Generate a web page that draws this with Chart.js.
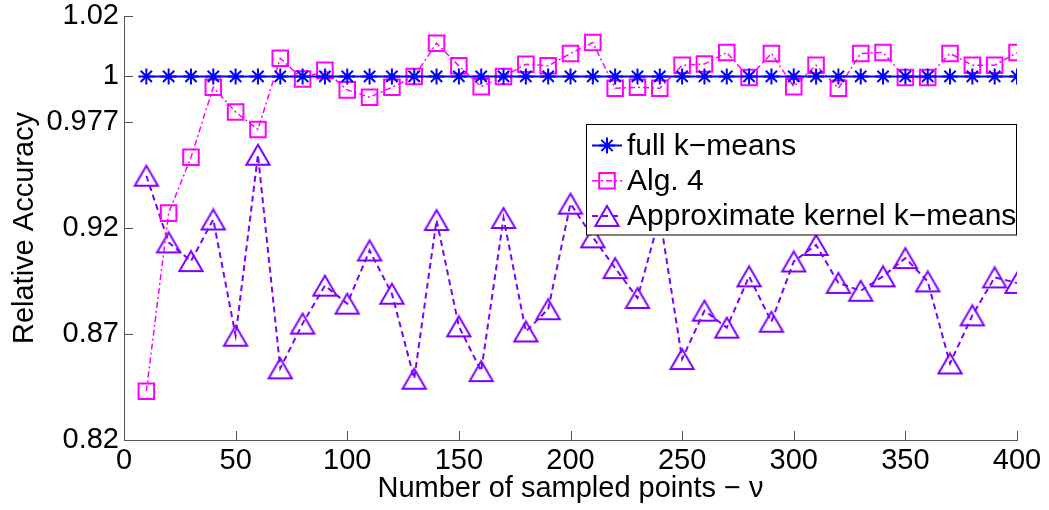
<!DOCTYPE html>
<html>
<head>
<meta charset="utf-8">
<script src="https://cdn.jsdelivr.net/npm/chart.js@4.4.1/dist/chart.umd.min.js"></script>
<style>
  html, body { margin: 0; padding: 0; background: #fff; }
  #wrap { width: 1049px; height: 510px; }
</style>
</head>
<body>
<div id="wrap"><canvas id="chart"></canvas></div>
<script>
// sampled points (nu)
const NU = [10, 20, 30, 40, 50, 60, 70, 80, 90, 100, 110, 120, 130, 140, 150, 160, 170, 180, 190, 200,
            210, 220, 230, 240, 250, 260, 270, 280, 290, 300, 310, 320, 330, 340, 350, 360, 370, 380, 390, 400];

const fullKMeans = NU.map(() => 1);

const alg4 = [0.843, 0.928, 0.958, 0.9945, 0.982, 0.973, 1.006, 0.9987, 1.002, 0.9932,
              0.9895, 0.9945, 1.0, 1.011, 1.0035, 0.9948, 1.0, 1.004, 1.0035, 1.0076,
              1.0112, 0.994, 0.9945, 0.994, 1.0037, 1.0041, 1.0079, 0.9995, 1.0076, 0.9948,
              1.0037, 0.994, 1.0076, 1.0079, 0.9995, 0.9995, 1.0076, 1.0037, 1.0037, 1.0079];

const approxKernel = [0.9481, 0.9132, 0.9044, 0.9246, 0.8692, 0.9594, 0.8538, 0.8749, 0.8928, 0.8843,
                      0.9094, 0.889, 0.8489, 0.9243, 0.8736, 0.8525, 0.9254, 0.8712, 0.8817, 0.9331,
                      0.9156, 0.9011, 0.887, 0.9261, 0.8582, 0.881, 0.873, 0.8972, 0.8758, 0.9042,
                      0.912, 0.8941, 0.8904, 0.8972, 0.9058, 0.8948, 0.8561, 0.8788, 0.8967, 0.8941];

const SERIES_LABELS = ['full k\u2212means', 'Alg. 4', 'Approximate kernel k\u2212means'];
const X_TICKS = [0, 50, 100, 150, 200, 250, 300, 350, 400];
const Y_TICKS = [0.82, 0.87, 0.92, 0.977, 1, 1.02];

// the accuracy axis is not linear: each tick value sits at its own fraction of the height
const Y_KNOT_FRAC = [0, 0.25, 0.5, 0.75, 0.8575, 1];

const FONT = "'Liberation Sans', Arial, Helvetica, sans-serif";
const AXIS_GRAY = '#555555';

class KnotScale extends Chart.LinearScale {
  _frac(value) {
    const v = Y_TICKS, f = Y_KNOT_FRAC;
    let i = 0;
    while (i < v.length - 2 && value > v[i + 1]) i++;
    return f[i] + (value - v[i]) / (v[i + 1] - v[i]) * (f[i + 1] - f[i]);
  }
  getPixelForValue(value) {
    if (value === null || value === undefined || isNaN(value)) return NaN;
    return this.getPixelForDecimal(this._frac(value));
  }
  getValueForPixel(pixel) {
    const d = this.getDecimalForPixel(pixel);
    const v = Y_TICKS, f = Y_KNOT_FRAC;
    let i = 0;
    while (i < f.length - 2 && d > f[i + 1]) i++;
    return v[i] + (d - f[i]) / (f[i + 1] - f[i]) * (v[i + 1] - v[i]);
  }
}
KnotScale.id = 'knot';
KnotScale.defaults = Chart.LinearScale.defaults;
Chart.register(KnotScale);

// hollow triangle centred on its bounding box
function triangleMarker(color) {
  const c = document.createElement('canvas');
  c.width = 28; c.height = 24;
  const g = c.getContext('2d');
  g.strokeStyle = color;
  g.lineWidth = 2;
  g.lineJoin = 'miter';
  g.beginPath();
  g.moveTo(14, 2);
  g.lineTo(25.6, 22);
  g.lineTo(2.4, 22);
  g.closePath();
  g.stroke();
  return c;
}

const toPoints = ys => NU.map((x, i) => ({ x, y: ys[i] }));

// tick marks pointing into the plot, like the MATLAB axes
const innerTicks = {
  id: 'innerTicks',
  afterDatasetsDraw(chart) {
    const { ctx, chartArea, scales } = chart;
    ctx.save();
    ctx.strokeStyle = AXIS_GRAY;
    ctx.lineWidth = 1;
    ctx.beginPath();
    scales.x.ticks.forEach(t => {
      const px = Math.round(scales.x.getPixelForValue(t.value)) + 0.5;
      ctx.moveTo(px, chartArea.bottom);
      ctx.lineTo(px, chartArea.bottom - 9);
    });
    scales.y.ticks.forEach(t => {
      const py = Math.round(scales.y.getPixelForValue(t.value)) + 0.5;
      ctx.moveTo(chartArea.left, py);
      ctx.lineTo(chartArea.left + 9, py);
    });
    ctx.stroke();
    ctx.restore();
  }
};

// boxed legend inside the top-right of the axes, drawn over the lines
const boxedLegend = {
  id: 'boxedLegend',
  afterDatasetsDraw(chart) {
    const { ctx, chartArea } = chart;
    const right = chartArea.right - 1;
    const left = right - 430;
    const top = 124.5;
    const rowH = 35.2;
    ctx.save();
    ctx.fillStyle = '#fff';
    ctx.fillRect(left, top, right - left, 110.5);
    ctx.strokeStyle = '#000';
    ctx.lineWidth = 1;
    ctx.strokeRect(Math.round(left) + 0.5, top, Math.round(right - left), 110.5);

    chart.data.datasets.forEach((ds, i) => {
      const y = top + 21 + i * rowH;
      ctx.save();
      ctx.strokeStyle = ds.borderColor;
      ctx.lineWidth = ds.borderWidth;
      ctx.setLineDash(ds.borderDash || []);
      ctx.beginPath();
      ctx.moveTo(left + 6, y);
      ctx.lineTo(left + 36, y);
      ctx.stroke();
      ctx.setLineDash([]);
      ctx.fillStyle = 'rgba(0,0,0,0)';
      ctx.lineWidth = ds.pointBorderWidth;
      Chart.helpers.drawPoint(ctx, {
        pointStyle: ds.pointStyle,
        radius: ds.pointRadius,
        rotation: 0,
        borderWidth: ds.pointBorderWidth
      }, left + 21, y);
      ctx.restore();

      ctx.fillStyle = '#000';
      ctx.font = '30px ' + FONT;
      ctx.textBaseline = 'middle';
      ctx.fillText(ds.label, left + 41, y + 1);
    });
    ctx.restore();
  }
};

Chart.defaults.font.family = FONT;
Chart.defaults.color = '#000';

new Chart(document.getElementById('chart'), {
  type: 'line',
  data: {
    datasets: [
      {
        label: SERIES_LABELS[0],
        data: toPoints(fullKMeans),
        borderColor: '#0000ff',
        borderWidth: 2,
        pointStyle: 'star',
        pointRadius: 8,
        pointBorderWidth: 2,
        pointBorderColor: '#0000ff',
        pointBackgroundColor: 'rgba(0,0,0,0)'
      },
      {
        label: SERIES_LABELS[1],
        data: toPoints(alg4),
        borderColor: '#ff00ff',
        borderWidth: 1.5,
        borderDash: [6, 3, 2, 3],
        pointStyle: 'rect',
        pointRadius: 11,
        pointBorderWidth: 2,
        pointBorderColor: '#ff00ff',
        pointBackgroundColor: 'rgba(0,0,0,0)'
      },
      {
        label: SERIES_LABELS[2],
        data: toPoints(approxKernel),
        borderColor: '#7f00ff',
        borderWidth: 2,
        borderDash: [6, 4],
        pointStyle: triangleMarker('#7f00ff'),
        pointRadius: 12,
        pointBorderWidth: 2,
        pointBorderColor: '#7f00ff',
        pointBackgroundColor: 'rgba(0,0,0,0)'
      }
    ]
  },
  options: {
    responsive: true,
    maintainAspectRatio: false,
    animation: false,
    layout: { padding: { left: 0, right: 32, top: 16, bottom: 0 } },
    elements: { line: { tension: 0, fill: false } },
    plugins: {
      legend: { display: false },
      tooltip: { enabled: false }
    },
    scales: {
      x: {
        type: 'linear',
        min: 0,
        max: 400,
        afterBuildTicks: s => { s.ticks = X_TICKS.map(v => ({ value: v })); },
        afterFit: s => { s.height = 70; s.paddingLeft = 0; s.paddingRight = 0; },
        grid: { display: false, drawTicks: false },
        border: { display: true, color: AXIS_GRAY, width: 1 },
        ticks: { font: { size: 29 }, padding: 4, maxRotation: 0, callback: v => String(v) },
        title: {
          display: true,
          text: 'Number of sampled points \u2212 \u03bd',
          font: { size: 29, lineHeight: 1 },
          padding: { top: 0, bottom: 7 }
        }
      },
      y: {
        type: 'knot',
        min: 0.82,
        max: 1.02,
        afterBuildTicks: s => { s.ticks = Y_TICKS.map(v => ({ value: v })); },
        afterFit: s => { s.width = 124; s.paddingTop = 0; s.paddingBottom = 0; },
        grid: { display: false, drawTicks: false },
        border: { display: true, color: AXIS_GRAY, width: 1 },
        ticks: { font: { size: 29 }, padding: 5, callback: v => String(v) },
        title: {
          display: true,
          text: 'Relative Accuracy',
          font: { size: 29, lineHeight: 1 },
          padding: { top: 10, bottom: 0 }
        }
      }
    }
  },
  plugins: [innerTicks, boxedLegend]
});
</script>
</body>
</html>
